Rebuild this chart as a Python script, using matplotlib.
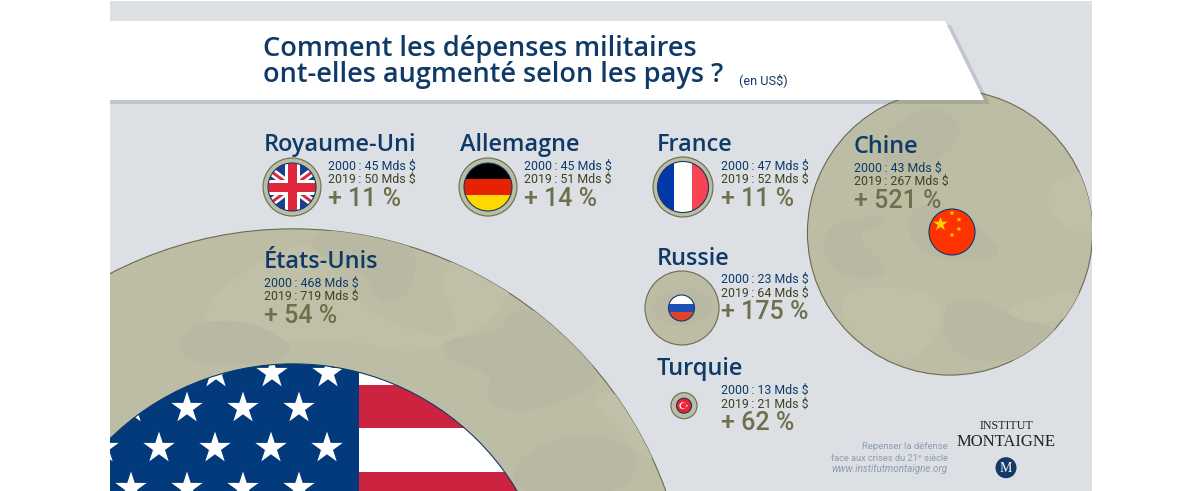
import numpy as np
import matplotlib
matplotlib.use("Agg")
import matplotlib.pyplot as plt
from matplotlib.patches import Circle, Rectangle, Polygon, PathPatch
from matplotlib.path import Path

# data
countries = ["Royaume-Uni", "Allemagne", "France", "Chine", "États-Unis", "Russie", "Turquie"]
spend_2000 = [45, 45, 47, 43, 468, 23, 13]
spend_2019 = [50, 51, 52, 267, 719, 64, 21]
growth_pct = [11, 14, 11, 521, 54, 175, 62]

# layout, in pixels of the picture
centers = [(292, 187), (488, 187), (683, 187), (950, 232.5), (293, 625), (682, 308), (684, 405.7)]
inner_centers = [(292, 187), (488, 187), (683, 187), (952, 232), (293, 625), (681.5, 308), (684, 405.7)]
scale_2000 = [0.533, 0.533, 0.543, 0.535, 0.558, 0.565, 0.577]
scale_2019 = [0.58, 0.569, 0.577, 0.534, 0.551, 0.578, 0.62]
name_pos = [(264, 151), (460, 151), (657, 151), (854, 153), (264, 267.7), (657, 265), (657, 375)]
info_pos = [(328, 169.5), (524, 169.5), (721, 169.5), (854, 171.7), (264, 286.7), (721, 283), (721, 394)]

PANEL = "#DCDFE4"
NAVY = "#0F3A67"
OLIVE = "#3F4222"
PCT = "#6F6F4E"
KHAKI = "#BDBDA5"
KHAKI_D = "#B9B8A2"
KHAKI_L = "#C0C0A8"
EDGE = "#6A6B50"

HEAD = "Open Sans"
BODY = ["Roboto", "DejaVu Sans"]

fig = plt.figure(figsize=(12, 4.91), dpi=100)
ax = fig.add_axes([0, 0, 1, 1])
ax.set_xlim(0, 1200)
ax.set_ylim(491, 0)
ax.axis("off")


def blob(points, color, clip, z):
    # closed smooth shape through the midpoints of a rough outline
    pts = np.array(points, dtype=float)
    mids = (pts + np.roll(pts, -1, axis=0)) / 2
    verts = [mids[-1]]
    codes = [Path.MOVETO]
    for p, m in zip(pts, mids):
        verts += [p, m]
        codes += [Path.CURVE3, Path.CURVE3]
    patch = PathPatch(Path(verts, codes), fc=color, ec="none", zorder=z)
    ax.add_patch(patch)
    patch.set_clip_path(clip)


def star(cx, cy, r, color, clip, z, rot=0):
    ang = np.deg2rad(np.arange(10) * 36 - 90 + rot)
    rad = np.where(np.arange(10) % 2 == 0, r, r * 0.382)
    patch = Polygon(np.c_[cx + rad * np.cos(ang), cy + rad * np.sin(ang)], fc=color, ec="none", zorder=z)
    ax.add_patch(patch)
    patch.set_clip_path(clip)


def band(x0, y0, w, h, color, clip, z):
    patch = Rectangle((x0, y0), w, h, fc=color, ec="none", zorder=z)
    ax.add_patch(patch)
    patch.set_clip_path(clip)


def bar(xs, ys, width_px, color, clip, z):
    line, = ax.plot(xs, ys, color=color, lw=width_px * 0.72, solid_capstyle="butt", zorder=z)
    line.set_clip_path(clip)


def flag_uk(c, r, clip, z):
    x, y = c
    band(x - r, y - r, 2 * r, 2 * r, "#1C3F94", clip, z)
    bar([x - r, x + r], [y - r * 0.75, y + r * 0.75], 8, "white", clip, z + 0.1)
    bar([x - r, x + r], [y + r * 0.75, y - r * 0.75], 8, "white", clip, z + 0.1)
    bar([x - r, x + r], [y - r * 0.75, y + r * 0.75], 3, "#E0283C", clip, z + 0.2)
    bar([x - r, x + r], [y + r * 0.75, y - r * 0.75], 3, "#E0283C", clip, z + 0.2)
    bar([x, x], [y - r, y + r], 15, "white", clip, z + 0.3)
    bar([x - r, x + r], [y, y], 15, "white", clip, z + 0.3)
    bar([x, x], [y - r, y + r], 9, "#E0283C", clip, z + 0.4)
    bar([x - r, x + r], [y, y], 9, "#E0283C", clip, z + 0.4)


def flag_de(c, r, clip, z):
    x, y = c
    for i, col in enumerate(["#000000", "#E62200", "#FFD800"]):
        band(x - r, y - r + i * 2 * r / 3, 2 * r, 2 * r / 3 + 0.5, col, clip, z)


def flag_fr(c, r, clip, z):
    x, y = c
    for i, col in enumerate(["#0038A8", "#FFFFFF", "#F64452"]):
        band(x - r + i * 2 * r / 3, y - r, 2 * r / 3 + 0.5, 2 * r, col, clip, z)


def flag_cn(c, r, clip, z):
    x, y = c
    band(x - r, y - r, 2 * r, 2 * r, "#FF3300", clip, z)
    star(x - 11.5, y - 8, 7.5, "#FFD500", clip, z + 0.1)
    for dx, dy in [(0, -19), (7, -12.5), (7, -3), (0, 3)]:
        star(x + dx, y + dy, 2.8, "#FFD500", clip, z + 0.1)


def flag_us(c, r, clip, z):
    x, y = c
    top = y - r
    band(x - r, top, 2 * r, 21, "white", clip, z)
    band(x - r, top + 21, 2 * r, 43, "#CC2340", clip, z)
    band(x - r, top + 64, 2 * r, 44, "white", clip, z)
    band(x - r, top + 108, 2 * r, 43, "#CC2340", clip, z)
    band(x - r, top, 359 - (x - r), 140, "#033A7C", clip, z + 0.1)
    rows = [(373, 328), (408, 299), (448, 327), (488, 299)]
    for row_y, last_x in rows:
        for k in range(6):
            sx = last_x - 56 * k
            if sx > 85:
                star(sx, row_y, 16.5, "white", clip, z + 0.2)


def flag_ru(c, r, clip, z):
    x, y = c
    for i, col in enumerate(["#FFFFFF", "#1F50B8", "#E0432A"]):
        band(x - r, y - r + i * 2 * r / 3, 2 * r, 2 * r / 3 + 0.3, col, clip, z)


def flag_tr(c, r, clip, z):
    x, y = c
    band(x - r, y - r, 2 * r, 2 * r, "#EE2230", clip, z)
    for rad, dx, col in [(3.4, -1.2, "white"), (2.8, -0.4, "#EE2230")]:
        p = Circle((x + dx, y), rad, fc=col, ec="none", zorder=z + 0.1)
        ax.add_patch(p)
        p.set_clip_path(clip)
    star(x + 2.8, y, 1.4, "white", clip, z + 0.2)


flags = [flag_uk, flag_de, flag_fr, flag_cn, flag_us, flag_ru, flag_tr]

# camouflage patches per ring: (shade, rough outline)
camo = {
    "États-Unis": [
        (KHAKI_L, [(200, 300), (300, 235), (330, 265), (375, 320), (470, 345), (430, 270), (500, 235), (520, 300), (430, 360), (330, 335), (210, 350)]),
        (KHAKI_D, [(507, 312), (533, 308), (567, 325), (603, 380), (580, 395), (533, 412), (490, 408), (487, 392), (493, 375), (443, 358), (443, 338), (503, 332)]),
        (KHAKI_D, [(510, 465), (550, 438), (600, 433), (637, 452), (637, 472), (617, 495), (517, 495)]),
        (KHAKI_D, [(313, 252), (310, 235), (343, 228), (420, 240), (410, 300), (377, 303), (367, 275)]),
        (KHAKI_D, [(183, 325), (243, 318), (297, 345), (277, 365), (177, 365)]),
        (KHAKI_L, [(590, 395), (615, 390), (640, 420), (660, 470), (610, 425)]),
    ],
    "Chine": [
        (KHAKI_D, [(917, 253), (903, 217), (933, 197), (1013, 253), (967, 263)]),
        (KHAKI_D, [(940, 300), (980, 297), (1013, 317), (1067, 330), (1040, 360), (950, 363)]),
        (KHAKI_L, [(1043, 193), (1067, 172), (1096, 173), (1096, 237), (1060, 227)]),
        (KHAKI_L, [(840, 287), (910, 287), (943, 300), (940, 337), (900, 370), (843, 330)]),
        (KHAKI_D, [(817, 227), (883, 213), (887, 227), (850, 233), (900, 277), (833, 280)]),
        (KHAKI_D, [(880, 135), (930, 100), (970, 130), (930, 170), (880, 165)]),
        (KHAKI_L, [(1000, 310), (1040, 295), (1090, 290), (1070, 320), (1030, 325)]),
    ],
    "Russie": [
        (KHAKI_D, [(648, 300), (690, 285), (718, 300), (700, 325), (660, 325)]),
    ],
}

ax.add_patch(Rectangle((110, 1), 982, 490, fc=PANEL, ec="none", zorder=0))

for i, name in enumerate(countries):
    base_z = 2 + i * 2
    r_out = spend_2019[i] * scale_2019[i]
    r_in = spend_2000[i] * scale_2000[i]
    outer = Circle(centers[i], r_out, fc=KHAKI, ec=EDGE, lw=0.8, zorder=base_z)
    ax.add_patch(outer)
    for shade, outline in camo.get(name, []):
        blob(outline, shade, outer, base_z + 0.1)
    inner = Circle(inner_centers[i], r_in, fc="none", ec="none", zorder=base_z + 0.2)
    ax.add_patch(inner)
    flags[i](inner_centers[i], r_in, inner, base_z + 0.3)
    ax.add_patch(Circle(inner_centers[i], r_in, fc="none", ec=NAVY, lw=0.8, zorder=base_z + 0.9))

# page margins hide what the big circles overflow
ax.add_patch(Rectangle((0, 0), 110, 491, fc="white", ec="none", zorder=30))
ax.add_patch(Rectangle((1092, 0), 108, 491, fc="white", ec="none", zorder=30))

# title banner
ax.add_patch(Polygon([(110, 25), (951, 25), (990, 104), (110, 104)], fc="#2B3A4A", alpha=0.15, ec="none", zorder=31))
ax.add_patch(Polygon([(110, 21), (945, 21), (984, 100), (110, 100)], fc="white", ec="none", zorder=32))
ax.text(263, 56, "Comment les dépenses militaires", family=HEAD, weight="semibold", size=19.5, color=NAVY, zorder=40)
ax.text(263, 82, "ont-elles augmenté selon les pays ?", family=HEAD, weight="semibold", size=19.5, color=NAVY, zorder=40)
ax.text(739, 84, "(en US$)", family=BODY, size=9.2, color=NAVY, zorder=40)

for i, name in enumerate(countries):
    ax.text(*name_pos[i], name, family=HEAD, weight="semibold", size=16.9, color=NAVY, zorder=40)
    ix, iy = info_pos[i]
    ax.text(ix, iy, f"2000\u2009: {spend_2000[i]} Mds $", family=BODY, size=8.9, color=NAVY, zorder=40)
    ax.text(ix, iy + 13.5, f"2019\u2009: {spend_2019[i]} Mds $", family=BODY, size=8.9, color=OLIVE, zorder=40)
    ax.text(ix, iy + 36, f"+ {growth_pct[i]} %", family=BODY, weight="medium", size=18, color=PCT, zorder=40)

# footer
FOOT = "#8C9DB0"
ax.text(948, 449, "Repenser la défense", family=BODY, size=6.8, color=FOOT, ha="right", zorder=40)
ax.text(948, 461, "face aux crises du 21ᵉ siècle", family=BODY, size=6.7, color=FOOT, ha="right", zorder=40)
ax.text(948, 472, "www.institutmontaigne.org", family=BODY, style="italic", size=7.1, color=FOOT, ha="right", zorder=40)

ax.text(1006, 429, "INSTITUT", family="Liberation Serif", size=8.6, color="#222222", ha="center", zorder=40)
ax.text(1006, 446, "MONTAIGNE", family="Liberation Serif", size=12, color="#222222", ha="center", zorder=40)
ax.add_patch(Circle((1006, 467.7), 10.5, fc=NAVY, ec="none", zorder=39))
ax.text(1006, 472.5, "M", family="Liberation Serif", size=10, color="white", ha="center", zorder=40)

fig.savefig("out.png", dpi=100, facecolor="white")
